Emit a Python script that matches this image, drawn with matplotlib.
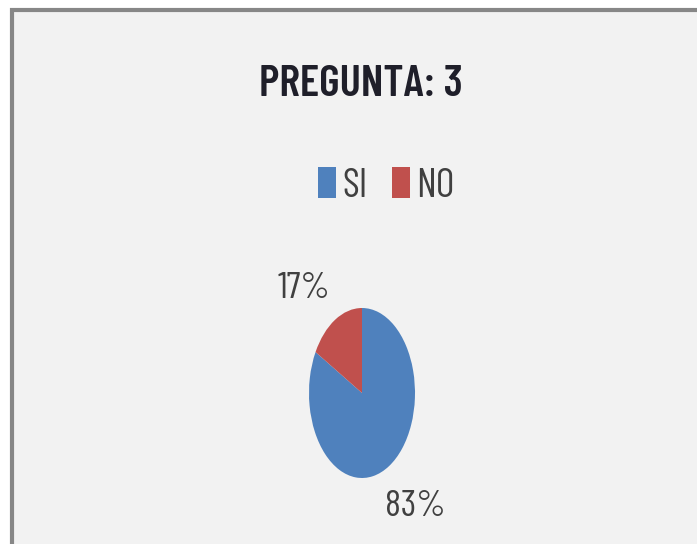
import matplotlib.pyplot as plt
from matplotlib.patches import Rectangle

# Data
categories = ["SI", "NO"]
values = [83, 17]
colors = ["#4f81bd", "#c0504d"]
title = "PREGUNTA: 3"

W, H = 697, 544
fig = plt.figure(figsize=(W / 100, H / 100), dpi=100)
fig.patch.set_facecolor("white")

font = ["Barlow Condensed", "DejaVu Sans"]

# Chart area background with grey frame (top and left visible)
fig.patches.append(Rectangle((11.5 / W, -0.05), 1.2, 1.05 - 10 / H,
                             transform=fig.transFigure, facecolor="#f2f2f2",
                             edgecolor="#878787", linewidth=3, zorder=-1))

# Pie axes (stretched vertically like the reference)
ax = fig.add_axes([309 / W, 1 - 478 / H, 106 / W, 170 / H])
wedges, _ = ax.pie(values, colors=colors, startangle=90, counterclock=False,
                   radius=1, wedgeprops=dict(linewidth=0))
ax.set_aspect("auto")
ax.set_xlim(-1, 1)
ax.set_ylim(-1, 1)
ax.axis("off")

# Percentage labels (best fit positions, data coords of the pie axes)
label_pos = [(1.0, -1.34), (-1.09, 1.235)]
for v, (x, y) in zip(values, label_pos):
    ax.text(x, y, f"{v:.0f}%", ha="center", va="center", fontsize=27,
            color="#404040", family=font)

fig.text(361 / W, 1 - 85 / H, title, ha="center", va="center", fontsize=32,
         fontweight="semibold", color="#1f1f2a", family=font)

leg = fig.legend(wedges, categories, loc="center",
                 bbox_to_anchor=(386 / W, 1 - 186 / H), ncol=2, frameon=False,
                 prop=dict(family=font, size=29),
                 handlelength=0.45, handleheight=0.8, handletextpad=0.15,
                 columnspacing=0.6)
for t in leg.get_texts():
    t.set_color("#404040")

fig.savefig("out.png", dpi=100, facecolor=fig.get_facecolor())
